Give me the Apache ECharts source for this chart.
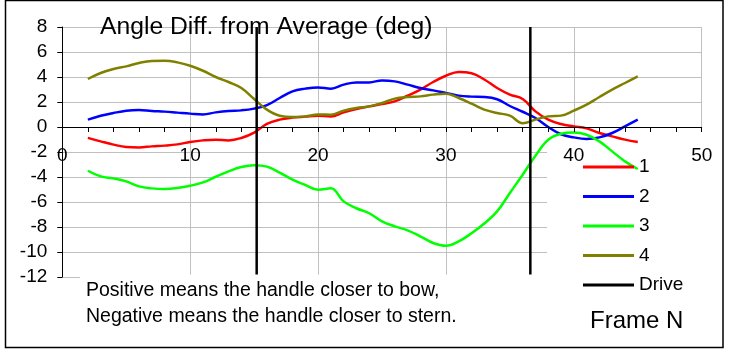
<!DOCTYPE html>
<html>
<head>
<meta charset="utf-8">
<script src="https://cdn.jsdelivr.net/npm/echarts@6/dist/echarts.min.js"></script>
<style>
  html, body { margin: 0; padding: 0; background: #fff; }
  #chart { width: 731px; height: 349px; }
</style>
</head>
<body>
<div id="chart"></div>
<script>
// Frame numbers sampled along the stroke
const frames = [2, 3, 4, 5, 6, 7, 8, 9, 10, 11, 12, 13, 14, 15, 16, 17, 18, 19, 20, 21, 22, 23,
  24, 25, 26, 27, 28, 29, 30, 31, 32, 33, 34, 35, 36, 37, 38, 39, 40, 41, 42, 43, 44, 45];

// Angle difference from the average (deg) for each rower
const rower1 = [-0.87, -1.15, -1.41, -1.6, -1.63, -1.55, -1.49, -1.39, -1.2, -1.07, -1.01, -1.07,
  -0.88, -0.45, 0.25, 0.59, 0.75, 0.83, 0.9, 0.85, 1.17, 1.44, 1.65, 1.84, 2.05, 2.5, 2.99, 3.6,
  4.1, 4.4, 4.3, 3.8, 3.12, 2.59, 2.24, 1.25, 0.59, 0.24, 0.05, -0.11, -0.48, -0.75, -1.01, -1.2];
const rower2 = [0.59, 0.9, 1.12, 1.3, 1.36, 1.28, 1.23, 1.15, 1.07, 1.01, 1.17, 1.28, 1.33, 1.47,
  1.75, 2.32, 2.85, 3.07, 3.17, 3.07, 3.39, 3.57, 3.57, 3.73, 3.65, 3.39, 3.12, 2.93, 2.72, 2.51,
  2.43, 2.4, 2.22, 1.68, 1.22, 0.72, 0.0, -0.58, -0.83, -0.95, -0.83, -0.48, 0.05, 0.59];
const rower3 = [-3.5, -3.95, -4.11, -4.35, -4.75, -4.91, -4.96, -4.88, -4.7, -4.43, -3.98, -3.55,
  -3.2, -3.05, -3.17, -3.65, -4.21, -4.64, -5.02, -4.9, -5.95, -6.5, -6.9, -7.55, -7.95, -8.27,
  -8.75, -9.28, -9.5, -9.15, -8.5, -7.72, -6.75, -5.28, -3.82, -2.3, -1.02, -0.54, -0.43, -0.62,
  -1.15, -1.95, -2.75, -3.36];
const rower4 = [3.84, 4.32, 4.64, 4.85, 5.12, 5.28, 5.3, 5.17, 4.9, 4.5, 4.0, 3.6, 3.12, 2.24,
  1.39, 0.9, 0.8, 0.85, 1.0, 0.99, 1.31, 1.52, 1.65, 1.92, 2.27, 2.4, 2.45, 2.59, 2.67, 2.32, 1.87,
  1.39, 1.12, 0.91, 0.3, 0.59, 0.85, 0.91, 1.31, 1.79, 2.4, 2.99, 3.52, 4.05];

// Frames where the drive phase starts and ends
const driveFrames = [15.2, 36.6];
const driveSpan = [8, -12];

const seriesNames = ['1', '2', '3', '4', 'Drive'];
const seriesColors = ['#ff0000', '#0000ff', '#00ff00', '#808000', '#000000'];

// axis ranges
const X_MIN = 0, X_MAX = 50;
const Y_MIN = -12, Y_MAX = 8, Y_STEP = 2;

const FONT = 'Liberation Sans, Arial, Helvetica, sans-serif';

// plot rectangle
const GRID = { left: 62.3, top: 27, width: 639.4, height: 250 };
// lift the frame axis from the bottom edge up to the y = 0 line
const zeroLift = GRID.height * (0 - Y_MIN) / (Y_MAX - Y_MIN);

const pairs = ys => frames.map((f, i) => [f, ys[i]]);

function curve(name, color, ys) {
  return {
    name: name,
    type: 'line',
    data: pairs(ys),
    smooth: 0.4,
    symbol: 'none',
    showSymbol: false,
    lineStyle: { color: color, width: 2.5 },
    itemStyle: { color: color },
    silent: true,
    z: 2
  };
}

function driveLine(x) {
  return {
    name: 'Drive',
    type: 'line',
    data: driveSpan.map(y => [x, y]),
    symbol: 'none',
    showSymbol: false,
    lineStyle: { color: '#000', width: 2.5 },
    itemStyle: { color: '#000' },
    silent: true,
    z: 2
  };
}

const chart = echarts.init(document.getElementById('chart'), null, { renderer: 'canvas' });

chart.setOption({
  animation: false,
  backgroundColor: '#ffffff',
  textStyle: { fontFamily: FONT },
  grid: Object.assign({ containLabel: false }, GRID),
  xAxis: [
    {
      type: 'value', min: X_MIN, max: X_MAX, interval: 2,
      position: 'bottom', offset: -zeroLift,
      axisLine: { show: true, onZero: false, lineStyle: { color: '#000', width: 1 } },
      axisTick: { show: true, inside: false, length: 5, lineStyle: { color: '#000', width: 1 } },
      axisLabel: {
        color: '#000', fontSize: 19, fontFamily: FONT, margin: 19,
        formatter: v => (v % 10 === 0 ? String(v) : '')
      },
      splitLine: { show: false },
      z: 5
    },
    {
      type: 'value', min: X_MIN, max: X_MAX, interval: 10, position: 'bottom',
      axisLine: { show: false, onZero: false }, axisTick: { show: false }, axisLabel: { show: false },
      splitLine: { show: true, lineStyle: { color: '#c0c0c0', width: 1 } },
      z: 0
    }
  ],
  yAxis: {
    type: 'value', min: Y_MIN, max: Y_MAX, interval: Y_STEP,
    axisLine: { show: true, onZero: false, lineStyle: { color: '#000', width: 1 } },
    axisTick: { show: true, inside: false, length: 5, lineStyle: { color: '#000', width: 1 } },
    axisLabel: { color: '#000', fontSize: 19, fontFamily: FONT, margin: 15 },
    splitLine: { show: true, lineStyle: { color: '#c0c0c0', width: 1 } },
    z: 0
  },
  legend: {
    data: seriesNames,
    orient: 'vertical',
    left: 578,
    top: 152.5,
    icon: 'rect',
    itemWidth: 51,
    itemHeight: 3,
    itemGap: 10.5,
    selectedMode: false,
    textStyle: { color: '#000', fontSize: 19, fontFamily: FONT },
    z: 6
  },
  graphic: [
    // white backing behind the legend, hiding the grid there
    { type: 'rect', z: 1, silent: true,
      shape: { x: 547, y: 132, width: 172, height: 214 },
      style: { fill: '#fff' } },
    // note box below the plot
    { type: 'rect', z: 4, silent: true,
      shape: { x: 80, y: 274.5, width: 467, height: 70 },
      style: { fill: '#fff' } },
    { type: 'text', z: 7, silent: true, x: 100, y: 27,
      style: { text: 'Angle Diff. from Average (deg)', fill: '#000', font: '24.7px ' + FONT,
        textAlign: 'left', textVerticalAlign: 'middle' } },
    { type: 'text', z: 7, silent: true, x: 86, y: 304,
      style: { text: 'Positive means the handle closer to bow,\nNegative means the handle closer to stern.',
        fill: '#000', font: '19.5px ' + FONT, lineHeight: 26,
        textAlign: 'left', textVerticalAlign: 'middle' } },
    { type: 'text', z: 7, silent: true, x: 590, y: 321,
      style: { text: 'Frame N', fill: '#000', font: '24px ' + FONT,
        textAlign: 'left', textVerticalAlign: 'middle' } },
    // outer frame
    { type: 'rect', z: 10, silent: true,
      shape: { x: 5.5, y: 0.5, width: 717.5, height: 347 },
      style: { fill: 'none', stroke: '#000', lineWidth: 1.5 } }
  ],
  series: [
    curve('1', seriesColors[0], rower1),
    curve('2', seriesColors[1], rower2),
    curve('3', seriesColors[2], rower3),
    curve('4', seriesColors[3], rower4),
    driveLine(driveFrames[0]),
    driveLine(driveFrames[1])
  ]
});
</script>
</body>
</html>
